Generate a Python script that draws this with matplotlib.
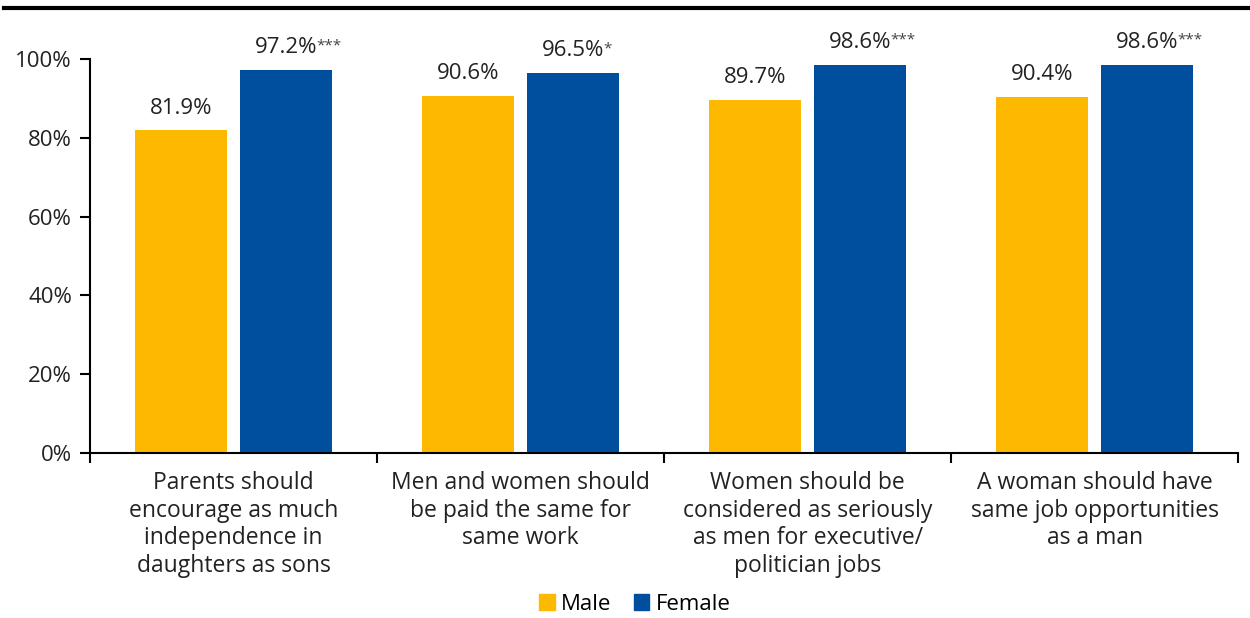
import matplotlib
matplotlib.use("Agg")
import matplotlib.pyplot as plt
from matplotlib.lines import Line2D
import numpy as np

plt.rcParams['font.family'] = ['Open Sans', 'DejaVu Sans']

categories = ["Parents should\nencourage as much\nindependence in\ndaughters as sons",
              "Men and women should\nbe paid the same for\nsame work",
              "Women should be\nconsidered as seriously\nas men for executive/\npolitician jobs",
              "A woman should have\nsame job opportunities\nas a man"]
male = [81.9, 90.6, 89.7, 90.4]
female = [97.2, 96.5, 98.6, 98.6]
female_sig = ["***", "*", "***", "***"]
yticks = [0, 20, 40, 60, 80, 100]
series_names = ["Male", "Female"]
colors = ["#FDB900", "#004F9F"]

fig = plt.figure(figsize=(12.5, 6.18), dpi=100)
ax = fig.add_axes([0.072, 0.267, 0.9185, 0.6375])

x = np.arange(len(categories)) + 0.5
w = 0.32
off = 0.183
bm = ax.bar(x - off, male, w, color=colors[0])
bf = ax.bar(x + off, female, w, color=colors[1])

ax.set_xlim(0, len(categories))
ax.set_ylim(0, 100)
ax.set_yticks(yticks)
ax.set_yticklabels([f"{v}%" for v in yticks])
ax.set_xticks(np.arange(len(categories) + 1))
ax.set_xticklabels([])
ax.set_xticks(x, minor=True)
ax.set_xticklabels(categories, minor=True, fontsize=16.5, color="#222222", linespacing=1.2)
ax.tick_params(axis='x', which='minor', length=0, pad=13)
ax.tick_params(axis='x', which='major', length=7, width=1.5, direction='out')
ax.tick_params(axis='y', length=7, width=1.5, labelsize=16, labelcolor="#222222", pad=6)
for s in ['top', 'right']:
    ax.spines[s].set_visible(False)
for s in ['left', 'bottom']:
    ax.spines[s].set_linewidth(1.5)

val_texts = []
for xi, v in zip(x - off, male):
    ax.annotate(f"{v:.1f}%", (xi, v), xytext=(0, 12), textcoords='offset points',
                ha='center', va='baseline', fontsize=16, color="#222222")
for xi, v, sig in zip(x + off, female, female_sig):
    t = ax.annotate(f"{v:.1f}%", (xi, v), xytext=(0, 12), textcoords='offset points',
                    ha='center', va='baseline', fontsize=16, color="#222222")
    val_texts.append((t, sig))

fig.canvas.draw()
r = fig.canvas.get_renderer()
for t, sig in val_texts:
    bb = t.get_window_extent(r)
    fig.text((bb.x1 - 1) / fig.bbox.width, (bb.y1 - 1) / fig.bbox.height, sig,
             ha='left', va='top', fontsize=11, color="#444444")

fig.add_artist(Line2D([0.003, 1.0], [1 - 8 / 618, 1 - 8 / 618], transform=fig.transFigure,
                      color='black', linewidth=3))

handles = [plt.Rectangle((0, 0), 1, 1, color=c) for c in colors]
fig.legend(handles, series_names, loc='center', bbox_to_anchor=(0.508, 0.022),
           ncol=2, frameon=False, fontsize=16, handlelength=0.7, handleheight=0.7,
           handletextpad=0.3, columnspacing=1.0)

fig.savefig("out.png", dpi=100)
